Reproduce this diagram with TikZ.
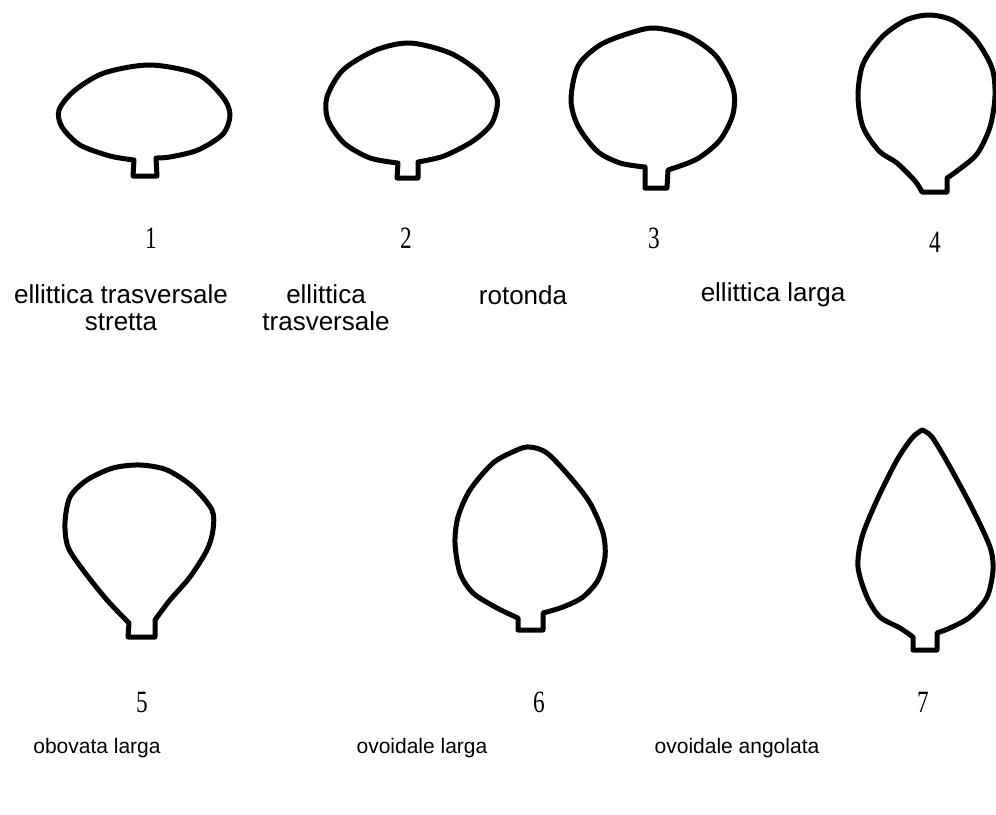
\documentclass[tikz,border=0pt]{standalone}
\usepackage{fontspec}
\setmainfont{Liberation Sans}
\newfontfamily\numfont[FakeStretch=0.75]{Liberation Serif}
\usetikzlibrary{positioning}

\begin{document}
\begin{tikzpicture}[x=1pt, y=-1pt,
  seed/.style={line width=5pt, line join=round},
  num/.style={inner sep=0pt, font=\numfont\fontsize{31}{31}\selectfont},
  lbl/.style={inner sep=0pt, align=center, font=\fontsize{26}{27}\selectfont},
  lbltwo/.style={inner sep=0pt, font=\fontsize{21}{22}\selectfont}]
\useasboundingbox (0,0) rectangle (996,814);

% upper row
\draw[seed] (133,176) -- (134,160) -- plot[smooth] coordinates {(134,160) (110,156) (80,145) (62,127) (59,110) (74,91) (104,73) (150,65) (197,74) (222,96) (230,114) (223,134) (198,150) (170,157) (156,158)} -- (157,176) -- cycle;
\draw[seed] (397,178) -- (398,163) -- plot[smooth] coordinates {(398,163) (370,158) (344,143) (328,120) (327,97) (343,70) (376,50) (410,43) (450,53) (480,73) (497,98) (492,123) (473,141) (444,156) (418,162)} -- (418,178) -- cycle;
\draw[seed] (645,188) -- (645,167) -- plot[smooth] coordinates {(645,167) (620,163) (597,151) (578,126) (571,100) (578,66) (600,45) (630,33) (655,28) (688,36) (716,56) (733,88) (733,114) (720,140) (697,159) (668,170)} -- (667,188) -- cycle;
\draw[seed] (922,192) -- plot[smooth] coordinates {(922,192) (915,181) (897,163) (879,151) (863,127) (858,96) (863,64) (882,37) (906,20) (930,15) (954,21) (976,40) (992,68) (995,96) (990,127) (977,154) (957,171) (947,178)} -- (947,192) -- cycle;

% lower row
\draw[seed] (128,637) -- (129,623) -- plot[smooth] coordinates {(129,623) (107,600) (83,570) (68,547) (65,523) (70,497) (87,480) (113,468) (140,465) (167,470) (193,487) (212,510) (213,530) (207,550) (190,577) (170,600) (155,620)} -- (155,637) -- cycle;
\draw[seed] (518,630) -- (518,618) -- plot[smooth] coordinates {(518,618) (497,608) (473,593) (460,573) (455,543) (458,517) (470,490) (493,463) (517,450) (530,447) (547,453) (570,477) (590,503) (603,533) (605,557) (598,580) (583,597) (563,607) (543,613)} -- (543,630) -- cycle;
\draw[seed] (913,650) -- (913,637) -- plot[smooth] coordinates {(913,637) (900,628) (880,617) (867,597) (858,567) (862,537) (877,500) (897,460) (912,438) (922,430)} -- plot[smooth] coordinates {(922,430) (932,437) (950,467) (973,510) (990,547) (993,570) (987,597) (970,617) (950,628) (937,633)} -- (937,650) -- cycle;

\node[num] (one) at (151,238) {1};
\node[num] (two) at (406,238) {2};
\node[num] (three) at (654,238) {3};
\node[num] (four) at (935,242) {4};
\node[num] (five) at (142,702) {5};
\node[num] (six) at (539,702) {6};
\node[num] (seven) at (923,702) {7};

\node[lbl] (stretta) at (121,308) {ellittica trasversale\\stretta};
\node[lbl] (trasversale) at (326,308) {ellittica\\trasversale};
\node[lbl] (rotonda) at (523,295) {rotonda};
\node[lbl] (larga) at (773,295) {ellittica larga};

\node[lbltwo] (obovata) at (97,748) {obovata larga};
\node[lbltwo] (ovoidale) at (422,748) {ovoidale larga};
\node[lbltwo] (angolata) at (737,748) {ovoidale angolata};
\end{tikzpicture}
\end{document}
